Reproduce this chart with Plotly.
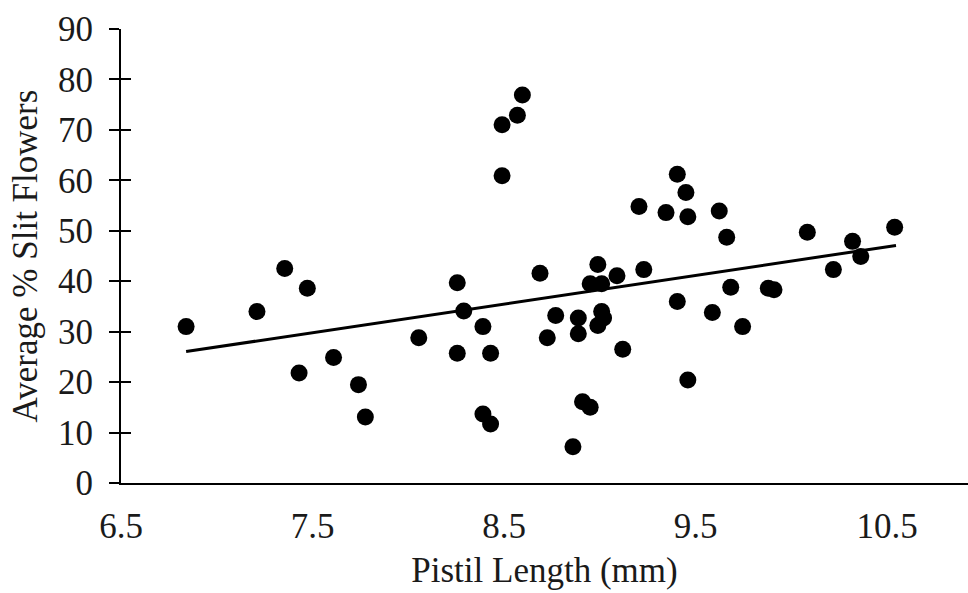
import plotly.graph_objects as go

# Data
pistil_length = [6.84, 7.21, 7.355, 7.473, 7.43, 7.61, 7.74, 7.776, 8.055, 8.256,
                 8.29, 8.39, 8.256, 8.43, 8.39, 8.43, 8.596, 8.57, 8.49, 8.49,
                 8.688, 8.77, 8.726, 8.888, 8.888, 8.99, 8.95, 9.01, 9.09, 9.23,
                 9.01, 9.02, 8.99, 9.12, 9.405, 9.46, 8.91, 8.95, 8.86, 9.405,
                 9.45, 9.205, 9.346, 9.46, 9.624, 9.663, 9.684, 9.588, 9.746, 9.88,
                 9.91, 10.084, 10.22, 10.32, 10.363, 10.54]
slit_pct = [31.0, 34.0, 42.5, 38.6, 21.8, 24.9, 19.5, 13.1, 28.8, 39.7,
            34.1, 31.0, 25.7, 25.7, 13.7, 11.7, 76.9, 72.9, 71.0, 60.9,
            41.6, 33.2, 28.8, 32.7, 29.6, 43.3, 39.5, 39.5, 41.1, 42.3,
            34.0, 32.7, 31.2, 26.5, 36.0, 20.4, 16.1, 15.0, 7.2, 61.2,
            57.6, 54.8, 53.6, 52.8, 53.9, 48.7, 38.8, 33.8, 31.0, 38.6,
            38.3, 49.7, 42.3, 47.9, 44.9, 50.7]

trend_x = [6.84, 10.547]
trend_y = [26.05, 47.1]

x_ticks = [6.5, 7.5, 8.5, 9.5, 10.5]
x_tick_labels = ["6.5", "7.5", "8.5", "9.5", "10.5"]
y_ticks = [0, 10, 20, 30, 40, 50, 60, 70, 80, 90]

FONT = "Liberation Serif"
FS = 35
TXT = "#1a1a1a"

fig = go.Figure()
fig.add_trace(go.Scatter(
    x=pistil_length, y=slit_pct, mode="markers",
    marker=dict(color="black", size=17, line=dict(width=0)),
    showlegend=False, hoverinfo="x+y"))
fig.add_trace(go.Scatter(
    x=trend_x, y=trend_y, mode="lines",
    line=dict(color="black", width=3),
    showlegend=False, hoverinfo="skip"))
# invisible trace on overlay axis (inner half of the crossing ticks)
fig.add_trace(go.Scatter(
    x=[trend_x[0]], y=[trend_y[0]], yaxis="y2", mode="markers",
    marker=dict(opacity=0), showlegend=False, hoverinfo="skip"))

fig.update_layout(
    width=968, height=593,
    margin=dict(l=121, r=0, t=29, b=110),
    paper_bgcolor="white", plot_bgcolor="white",
    font=dict(family=FONT, color=TXT, size=FS),
    xaxis=dict(
        range=[6.5, 10.923], tickvals=x_ticks, ticktext=x_tick_labels,
        showgrid=False, zeroline=False, showline=True, linecolor="black",
        linewidth=2, ticks="", ticklabelstandoff=11,
        tickfont=dict(family=FONT, size=FS, color=TXT),
        title=dict(text="Pistil Length (mm)", standoff=12,
                   font=dict(family=FONT, size=FS, color=TXT)),
    ),
    yaxis=dict(
        range=[0, 90], tickvals=y_ticks,
        showgrid=False, zeroline=False, showline=True, linecolor="black",
        linewidth=2, ticks="outside", ticklen=10, tickwidth=2, tickcolor="black",
        ticklabelstandoff=9,
        tickfont=dict(family=FONT, size=FS, color=TXT),
        title=dict(text="Average % Slit Flowers", standoff=10,
                   font=dict(family=FONT, size=FS, color=TXT)),
    ),
    yaxis2=dict(
        overlaying="y", anchor="x", side="left", range=[0, 90], tickvals=y_ticks,
        showgrid=False, zeroline=False, showline=False, showticklabels=False,
        ticks="inside", ticklen=10, tickwidth=2, tickcolor="black",
    ),
)

fig.write_html("out.html")
